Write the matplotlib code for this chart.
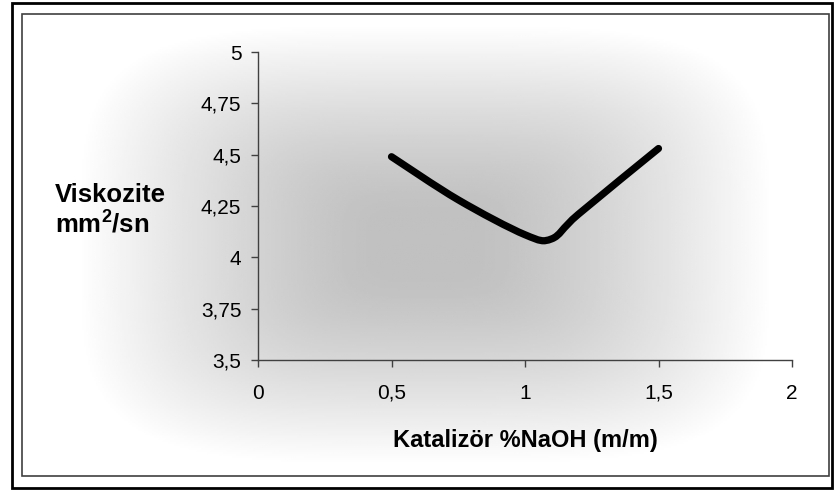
import numpy as np
import matplotlib
matplotlib.use("Agg")
import matplotlib.pyplot as plt
from matplotlib.path import Path
from matplotlib.patches import PathPatch, Rectangle

plt.rcParams['font.family'] = ['Liberation Sans', 'DejaVu Sans']
plt.rcParams['mathtext.fontset'] = 'custom'
plt.rcParams['mathtext.rm'] = 'Liberation Sans:bold'

# data
naoh = [0.5, 0.75, 1.0, 1.1, 1.2, 1.5]
viskozite = [4.49, 4.28, 4.11, 4.09, 4.21, 4.53]

x_ticks = [0, 0.5, 1, 1.5, 2]
x_labels = ["0", "0,5", "1", "1,5", "2"]
y_ticks = [3.5, 3.75, 4, 4.25, 4.5, 4.75, 5]
y_labels = ["3,5", "3,75", "4", "4,25", "4,5", "4,75", "5"]

W, H = 834, 490
fig = plt.figure(figsize=(W / 100, H / 100), dpi=100)

# chart area gradient (dark centre, white edges)
bg = fig.add_axes([22 / W, 1 - 476 / H, (829 - 22) / W, (476 - 14) / H], zorder=0)
u = np.linspace(-1, 1, 400) * 1.1
v = np.linspace(-1, 1, 240)
U, V = np.meshgrid(u, v)
t = (np.abs(U) ** 4 + np.abs(V) ** 4) ** 0.25
f = np.clip((t - 0.15) / 0.8, 0, 1) ** 1.3
shade = (193 + 62 * f) / 255
bg.imshow(shade, cmap='gray', vmin=0, vmax=1, aspect='auto', interpolation='bilinear')
bg.axis('off')

# frames
fig.patches.append(Rectangle((12 / W, 1 - 488 / H), (832 - 12) / W, (488 - 3) / H,
                             transform=fig.transFigure, fill=False, ec='black', lw=2.0, zorder=5))
fig.patches.append(Rectangle((22 / W, 1 - 476 / H), (829 - 22) / W, (476 - 14) / H,
                             transform=fig.transFigure, fill=False, ec='#404040', lw=1.2, zorder=5))

ax = fig.add_axes([258 / W, 1 - 360 / H, (792 - 258) / W, (360 - 52) / H], zorder=2)
ax.patch.set_alpha(0)
ax.set_xlim(0, 2)
ax.set_ylim(3.5, 5)

# smoothed line like the spreadsheet: cubic bezier through the points
pts = np.column_stack([naoh, viskozite])
n = len(pts)
verts = [pts[0]]
codes = [Path.MOVETO]
for i in range(n - 1):
    p0 = pts[max(i - 1, 0)]
    p1 = pts[i]
    p2 = pts[i + 1]
    p3 = pts[min(i + 2, n - 1)]
    verts += [p1 + (p2 - p0) / 6, p2 - (p3 - p1) / 6, p2]
    codes += [Path.CURVE4] * 3
ax.add_patch(PathPatch(Path(verts, codes), fill=False, ec='black', lw=5.2,
                       capstyle='round', joinstyle='round'))

ax.set_xticks(x_ticks)
ax.set_xticklabels(x_labels)
ax.set_yticks(y_ticks)
ax.set_yticklabels(y_labels)
for s in ['top', 'right']:
    ax.spines[s].set_visible(False)
for s in ['left', 'bottom']:
    ax.spines[s].set_color('#404040')
    ax.spines[s].set_linewidth(1.0)
ax.tick_params(axis='both', direction='out', length=5, width=1.0, color='#404040',
               labelsize=15, labelcolor='black')
ax.tick_params(axis='x', pad=12)
ax.tick_params(axis='y', pad=7)

ax.set_xlabel("Katalizör %NaOH (m/m)", fontsize=17, fontweight='bold', labelpad=19)
fig.text(55 / W, 1 - 202 / H, "Viskozite", fontsize=18.5, fontweight='bold',
         ha='left', va='baseline')
fig.text(55 / W, 1 - 233 / H, r"mm$\mathregular{^2}$/sn", fontsize=18.5, fontweight='bold',
         ha='left', va='baseline')

fig.savefig("out.png", dpi=100)
